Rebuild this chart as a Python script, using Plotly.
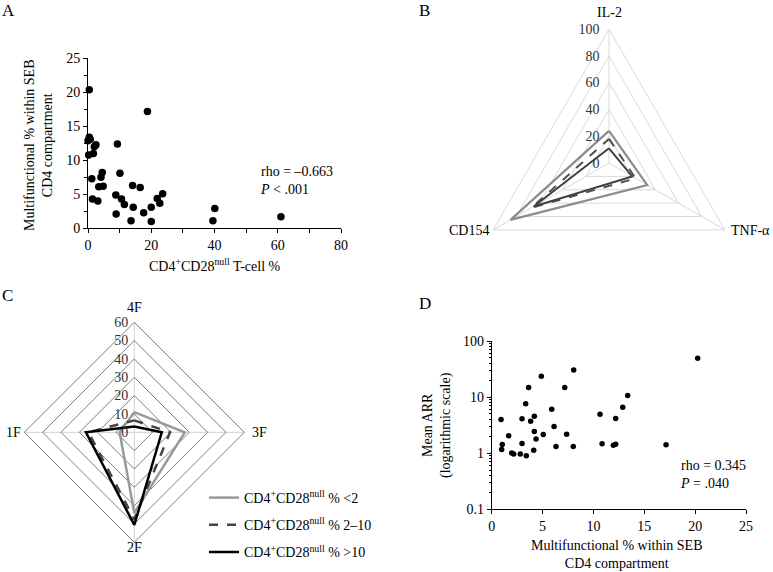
import plotly.graph_objects as go

W, H = 773, 572
FONT = "Liberation Serif"

# ---- Panel A data ----
a_x = [0.4, 18.8, 0.4, 0.0, 0.7, 2.5, 2.0, 9.3, 0.2, 1.7, 1.2, 4.5, 4.1, 10.1, 3.4, 4.8, 14.1, 16.5,
       1.4, 3.1, 8.8, 10.6, 11.5, 14.3, 17.6, 8.9, 13.6, 20.0, 20.0, 21.9, 22.7, 23.6, 39.5, 40.1, 61.0]
a_y = [20.4, 17.2, 13.4, 12.9, 13.1, 12.3, 12.0, 12.4, 10.8, 11.0, 7.3, 8.2, 7.5, 8.1, 6.1, 6.2, 6.3, 6.0,
       4.3, 4.0, 4.9, 4.3, 3.5, 3.1, 2.3, 2.1, 1.1, 3.1, 1.0, 4.4, 3.7, 5.1, 1.1, 2.9, 1.7]

# ---- Panel B data ----
b_cats = ["IL-2", "TNF-α", "CD154"]
b_lt2 = [24, 33, 85]
b_2_10 = [18, 23, 67]
b_gt10 = [11, 20, 65]

# ---- Panel C data ----
c_cats = ["4F", "3F", "2F", "1F"]
c_lt2 = [11, 27.5, 44, 8]
c_2_10 = [6.5, 19.5, 47.5, 25]
c_gt10 = [3.2, 15, 50.5, 26.4]
series_names = ["CD4<sup>+</sup>CD28<sup>null</sup> % &lt;2",
                "CD4<sup>+</sup>CD28<sup>null</sup> % 2–10",
                "CD4<sup>+</sup>CD28<sup>null</sup> % &gt;10"]

# ---- Panel D data ----
d_x = [0.92, 1.04, 0.98, 1.67, 1.97, 2.16, 2.81, 2.98, 2.98, 3.40, 3.34, 3.63, 3.83, 4.19, 4.19, 4.13, 4.36,
       4.88, 5.07, 5.90, 6.13, 6.32, 7.18, 7.37, 8.02, 8.06, 10.65, 10.85, 11.96, 12.19, 12.19, 12.88, 13.37,
       17.14, 20.25]
d_y = [4.0, 1.43, 1.16, 2.04, 1.01, 0.97, 0.97, 1.49, 4.1, 0.90, 7.6, 14.8, 3.7, 4.57, 2.43, 1.13, 1.80,
       23.6, 2.15, 6.1, 2.99, 1.32, 14.8, 2.18, 1.32, 30.5, 4.96, 1.47, 1.39, 1.45, 4.15, 6.6, 10.7,
       1.41, 49.3]


def px(x):
    return x / W


def py(y):
    return 1 - y / H


def closed(v):
    return list(v) + [v[0]]


fig = go.Figure()

# Panel A scatter
fig.add_trace(go.Scatter(x=a_x, y=a_y, mode="markers", xaxis="x", yaxis="y",
                         marker=dict(color="black", size=7.5), cliponaxis=False, showlegend=False))

# Panel D scatter
fig.add_trace(go.Scatter(x=d_x, y=d_y, mode="markers", xaxis="x2", yaxis="y2",
                         marker=dict(color="black", size=5.5), cliponaxis=False, showlegend=False))

# Panel B radar
b_styles = [dict(color="#8c8c8c", width=2.2, dash="solid"),
            dict(color="#505050", width=2.0, dash="dash"),
            dict(color="#404040", width=2.0, dash="solid")]
for vals, st in zip([b_lt2, b_2_10, b_gt10], b_styles):
    fig.add_trace(go.Scatterpolar(r=closed(vals), theta=closed(b_cats), mode="lines", subplot="polar",
                                  line=st, showlegend=False))

# Panel C radar
c_styles = [dict(color="#999999", width=2.5, dash="solid"),
            dict(color="#444444", width=2.5, dash="dash"),
            dict(color="#000000", width=2.5, dash="solid")]
for i, (vals, st, nm) in enumerate(zip([c_lt2, c_2_10, c_gt10], c_styles, series_names)):
    fig.add_trace(go.Scatterpolar(r=closed(vals), theta=closed(c_cats), mode="lines", subplot="polar2",
                                  line=st, name=nm, legendgroup=f"g{i}"))

axis_common = dict(showline=True, linecolor="black", linewidth=1, ticks="outside", ticklen=4,
                   tickcolor="black", showgrid=False, zeroline=False, automargin=False,
                   tickfont=dict(family=FONT, size=14, color="black"))

NB = "\u00a0"

fig.update_layout(
    template="none",
    width=W, height=H, autosize=False,
    margin=dict(l=0, r=0, t=0, b=0, pad=0),
    paper_bgcolor="white", plot_bgcolor="white",
    font=dict(family=FONT, size=14, color="black"),
    xaxis=dict(domain=[px(88), px(341)], range=[0, 80], dtick=20, anchor="y",
               minor=dict(dtick=10, ticks="outside", ticklen=4, tickcolor="black"), **axis_common),
    yaxis=dict(domain=[py(228.3), py(58.4)], range=[0, 25], dtick=5, anchor="x",
               minor=dict(dtick=2.5, ticks="outside", ticklen=3, tickcolor="black"), **axis_common),
    xaxis2=dict(domain=[px(491.7), px(746)], range=[0, 25], dtick=5, anchor="y2", **axis_common),
    yaxis2=dict(domain=[py(509.3), py(341)], type="log", range=[-1, 2], dtick=1, anchor="x2",
                minor=dict(ticks="outside", ticklen=2, tickcolor="black", dtick="D1"), **axis_common),
    polar=dict(
        domain=dict(x=[px(475.2), px(742.8)], y=[py(296.8), py(29.2)]),
        gridshape="linear", bgcolor="rgba(0,0,0,0)",
        angularaxis=dict(direction="clockwise", rotation=90, linecolor="#d9d9d9", gridcolor="#d9d9d9",
                         showline=True, showgrid=True, ticks="", showticklabels=False),
        radialaxis=dict(range=[0, 100], dtick=20, angle=90, tickangle=90, side="counterclockwise",
                        gridcolor="#d9d9d9", showgrid=True, showline=False, ticks="",
                        ticksuffix=NB * 2,
                        tickfont=dict(family=FONT, size=14, color="#333333")),
    ),
    polar2=dict(
        domain=dict(x=[px(24.3), px(244.3)], y=[py(542.3), py(322.3)]),
        gridshape="linear", bgcolor="rgba(0,0,0,0)",
        angularaxis=dict(direction="clockwise", rotation=90, linecolor="#7f7f7f", gridcolor="#d0d0d0",
                         showline=True, showgrid=True, ticks="", showticklabels=False),
        radialaxis=dict(range=[0, 60], dtick=10, angle=90, tickangle=90, side="counterclockwise",
                        gridcolor="#7f7f7f", showgrid=True, showline=False, ticks="",
                        ticksuffix=NB,
                        tickfont=dict(family=FONT, size=14, color="#333333")),
    ),
    legend=dict(x=px(204), y=py(482), xanchor="left", yanchor="top", bgcolor="rgba(0,0,0,0)",
                font=dict(family=FONT, size=14, color="black"), tracegroupgap=6),
)

ann = [
    # panel letters
    dict(text="A", x=px(0), y=py(10)),
    dict(text="B", x=px(417), y=py(10)),
    dict(text="C", x=px(0), y=py(295)),
    dict(text="D", x=px(417), y=py(303)),
]
for a in ann:
    a.update(xref="paper", yref="paper", xanchor="left", yanchor="middle", showarrow=False,
             font=dict(family=FONT, size=17, color="black"))

texts = [
    dict(text="Multifunctional % within SEB<br>CD4 compartment", x=px(38), y=py(145), textangle=-90,
         xanchor="center", yanchor="middle"),
    dict(text="CD4<sup>+</sup>CD28<sup>null</sup> T-cell %", x=px(215), y=py(265),
         xanchor="center", yanchor="middle"),
    dict(text="rho = –0.663<br><i>P</i> &lt; .001", x=px(258), y=py(180), xanchor="left",
         yanchor="middle", align="left"),
    dict(text="Mean ARR<br>(logarithmic scale)", x=px(437), y=py(425), textangle=-90,
         xanchor="center", yanchor="middle"),
    dict(text="Multifunctional % within SEB<br>CD4 compartment", x=px(617), y=py(554),
         xanchor="center", yanchor="middle"),
    dict(text="rho = 0.345<br><i>P</i> = .040", x=px(678), y=py(474), xanchor="left",
         yanchor="middle", align="left"),
    # radar category labels
    dict(text=b_cats[0], x=px(609), y=py(13), xanchor="center", yanchor="middle"),
    dict(text=b_cats[1], x=px(729), y=py(230), xanchor="left", yanchor="middle"),
    dict(text=b_cats[2], x=px(491), y=py(230), xanchor="right", yanchor="middle"),
    dict(text=c_cats[0], x=px(134.3), y=py(307), xanchor="center", yanchor="middle"),
    dict(text=c_cats[1], x=px(250), y=py(432.3), xanchor="left", yanchor="middle"),
    dict(text=c_cats[2], x=px(134.3), y=py(547), xanchor="center", yanchor="middle"),
    dict(text=c_cats[3], x=px(23), y=py(432.3), xanchor="right", yanchor="middle"),
]
for t in texts:
    t.update(xref="paper", yref="paper", showarrow=False,
             font=dict(family=FONT, size=14, color="black"))

fig.update_layout(annotations=ann + texts)

fig.write_html("out.html", config={"displayModeBar": False},
               post_script="document.body.style.margin='0';document.body.style.overflow='hidden';")
